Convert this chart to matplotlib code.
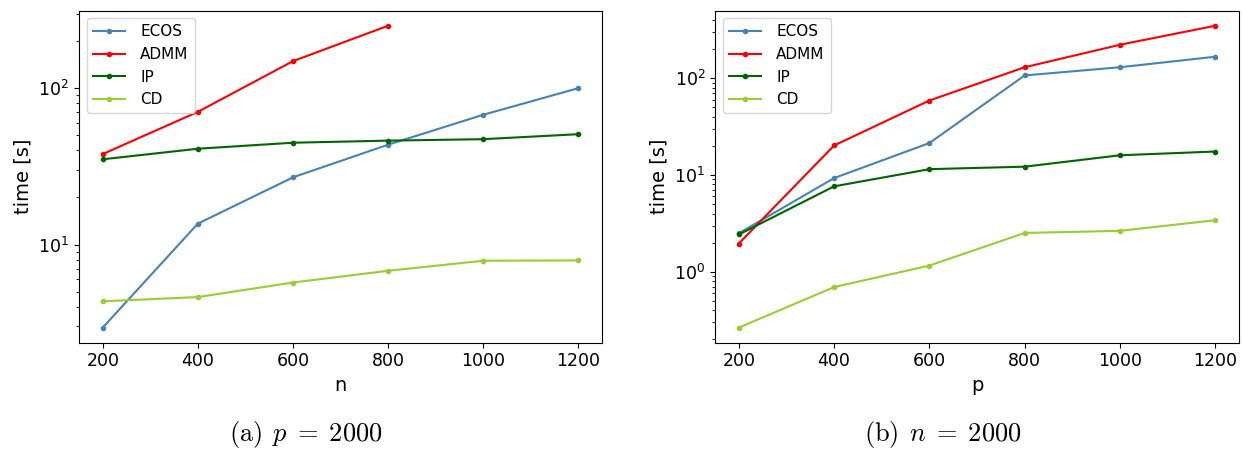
import matplotlib
matplotlib.use("Agg")
import matplotlib.pyplot as plt

# --------------------
# data
# --------------------
sizes = [200, 400, 600, 800, 1000, 1200]
admm_sizes = [200, 400, 600, 800]

# (a) p = 2000, varying n
ecos_a = [2.94, 13.6, 26.9, 43.5, 67.6, 100.0]
admm_a = [37.9, 70.6, 149.0, 251.0]
ip_a = [35.1, 41.0, 44.8, 46.2, 47.2, 50.8]
cd_a = [4.33, 4.61, 5.71, 6.79, 7.87, 7.91]

# (b) n = 2000, varying p
ecos_b = [2.5, 9.3, 21.4, 107.0, 130.0, 167.0]
admm_b = [1.96, 20.2, 58.9, 130.0, 222.0, 349.0]
ip_b = [2.43, 7.64, 11.5, 12.2, 16.0, 17.5]
cd_b = [0.265, 0.695, 1.16, 2.52, 2.65, 3.41]

colors = {"ECOS": "steelblue", "ADMM": "red", "IP": "darkgreen", "CD": "yellowgreen"}

plt.rcParams["mathtext.fontset"] = "cm"

fig = plt.figure(figsize=(12.42, 4.54), dpi=100)
ax_a = fig.add_axes([0.0636, 0.2452, 0.4211, 0.7313])
ax_b = fig.add_axes([0.5757, 0.2452, 0.4219, 0.7313])


def draw(ax, xlabel, ecos, admm_x, admm, ip, cd):
    ax.plot(sizes, ecos, marker=".", color=colors["ECOS"], label="ECOS")
    ax.plot(admm_x, admm, marker=".", color=colors["ADMM"], label="ADMM")
    ax.plot(sizes, ip, marker=".", color=colors["IP"], label="IP")
    ax.plot(sizes, cd, marker=".", color=colors["CD"], label="CD")
    ax.set_yscale("log")
    ax.set_xticks(sizes)
    ax.tick_params(labelsize=12.5)
    ax.set_xlabel(xlabel, fontsize=14)
    ax.set_ylabel("time [s]", fontsize=14)
    ax.legend(loc="upper left", fontsize=11, handlelength=2.1, handletextpad=1.0)


draw(ax_a, "n", ecos_a, admm_sizes, admm_a, ip_a, cd_a)
draw(ax_b, "p", ecos_b, sizes, admm_b, ip_b, cd_b)

# sub-captions
fig.text(306 / 1242, 1 - 434 / 454, r"$\mathrm{(a)}\;\, p \;=\; 2000$",
         fontsize=19, ha="center", va="center")
fig.text(943 / 1242, 1 - 434 / 454, r"$\mathrm{(b)}\;\, n \;=\; 2000$",
         fontsize=19, ha="center", va="center")

plt.savefig("out.png", dpi=100)
plt.close()
